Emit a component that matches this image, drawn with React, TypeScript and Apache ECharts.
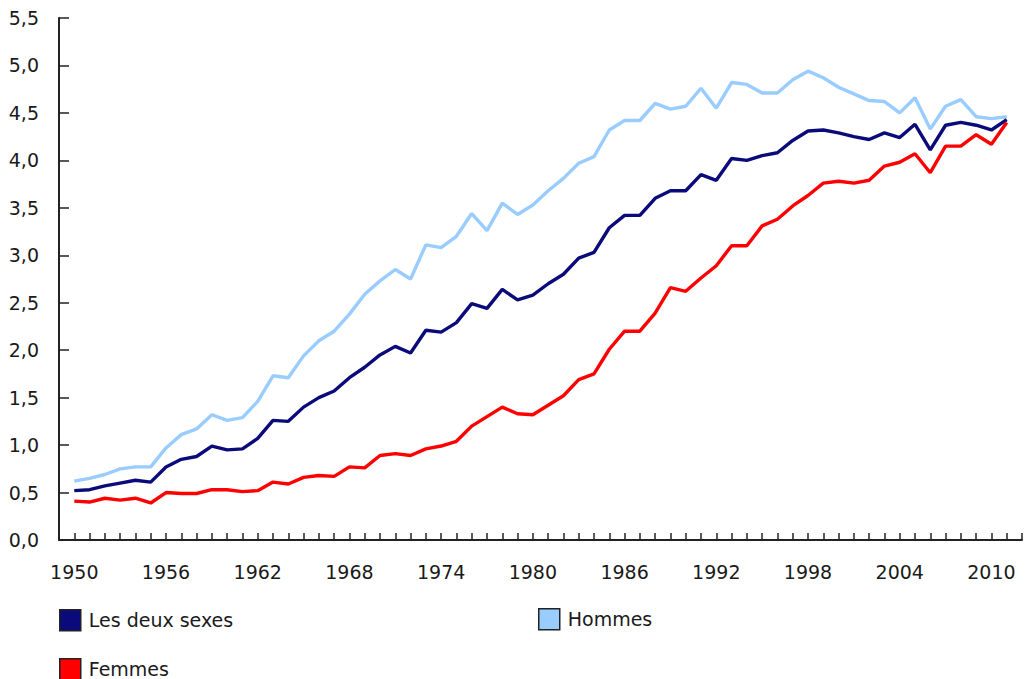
import React, { useEffect, useRef } from "react";
import * as echarts from "echarts";

const years: number[] = [];
for (let y = 1950; y <= 2011; y++) years.push(y);

const lesDeuxSexes = [
  0.52, 0.53, 0.57, 0.60, 0.63, 0.61, 0.77, 0.85, 0.88, 0.99,
  0.95, 0.96, 1.07, 1.26, 1.25, 1.40, 1.50, 1.57, 1.71, 1.82,
  1.95, 2.04, 1.97, 2.21, 2.19, 2.29, 2.49, 2.44, 2.64, 2.53,
  2.58, 2.70, 2.80, 2.97, 3.03, 3.29, 3.42, 3.42, 3.60, 3.68,
  3.68, 3.85, 3.79, 4.02, 4.00, 4.05, 4.08, 4.21, 4.31, 4.32,
  4.29, 4.25, 4.22, 4.29, 4.24, 4.38, 4.11, 4.37, 4.40, 4.37,
  4.32, 4.43,
];

const hommes = [
  0.62, 0.65, 0.69, 0.75, 0.77, 0.77, 0.97, 1.11, 1.17, 1.32,
  1.26, 1.29, 1.46, 1.73, 1.71, 1.94, 2.10, 2.20, 2.38, 2.59,
  2.73, 2.85, 2.75, 3.11, 3.08, 3.20, 3.44, 3.26, 3.55, 3.43,
  3.53, 3.68, 3.81, 3.97, 4.04, 4.32, 4.42, 4.42, 4.60, 4.54,
  4.57, 4.76, 4.55, 4.82, 4.80, 4.71, 4.71, 4.85, 4.94, 4.87,
  4.77, 4.70, 4.63, 4.62, 4.50, 4.66, 4.33, 4.57, 4.64, 4.46,
  4.44, 4.46,
];

const femmes = [
  0.41, 0.40, 0.44, 0.42, 0.44, 0.39, 0.50, 0.49, 0.49, 0.53,
  0.53, 0.51, 0.52, 0.61, 0.59, 0.66, 0.68, 0.67, 0.77, 0.76,
  0.89, 0.91, 0.89, 0.96, 0.99, 1.04, 1.20, 1.30, 1.40, 1.33,
  1.32, 1.42, 1.52, 1.69, 1.75, 2.01, 2.20, 2.20, 2.39, 2.66,
  2.62, 2.76, 2.89, 3.10, 3.10, 3.31, 3.38, 3.52, 3.63, 3.76,
  3.78, 3.76, 3.79, 3.94, 3.98, 4.07, 3.87, 4.15, 4.15, 4.27,
  4.17, 4.40,
];

const NAMES = ["Les deux sexes", "Hommes", "Femmes"];
const COLORS = ["#0a0a7a", "#99ccff", "#ff0000"];
const FONT = "Verdana, 'DejaVu Sans', sans-serif";
const TEXT = "#1a1a1a";

export default function App() {
  const ref = useRef<HTMLDivElement>(null);
  useEffect(() => {
    if (!ref.current) return;
    const chart = echarts.init(ref.current, undefined, { renderer: "svg" });
    const toPairs = (vals: number[]) => years.map((y, i) => [y, vals[i]]);
    const mkSeries = (idx: number, vals: number[]) => ({
      name: NAMES[idx],
      type: "line",
      data: toPairs(vals),
      showSymbol: false,
      symbol: "none",
      color: COLORS[idx],
      lineStyle: { color: COLORS[idx], width: 3.4 },
      itemStyle: { color: COLORS[idx] },
    });
    const legendBase = {
      orient: "horizontal",
      padding: 0,
      icon: "rect",
      itemWidth: 21,
      itemHeight: 21,
      selectedMode: false,
      itemStyle: { borderColor: "#222", borderWidth: 1.5 },
      textStyle: { fontFamily: FONT, fontSize: 19, color: TEXT, padding: [0, 0, 0, 3] },
    };
    chart.setOption({
      animation: false,
      grid: { left: 59, width: 971, top: 18, bottom: 139, containLabel: false },
      xAxis: {
        type: "value",
        min: 1949,
        max: 2012,
        interval: 1,
        axisLine: { show: true, lineStyle: { color: "#222", width: 2 } },
        axisTick: { show: true, inside: true, length: 7, lineStyle: { color: "#222", width: 1.5 } },
        splitLine: { show: false },
        axisLabel: {
          margin: 22,
          fontFamily: FONT,
          fontSize: 19,
          color: TEXT,
          showMinLabel: true,
          showMaxLabel: true,
          formatter: (v: number) => (v >= 1950 && (v - 1950) % 6 === 0 ? String(v) : ""),
        },
      },
      yAxis: {
        type: "value",
        min: 0,
        max: 5.5,
        interval: 0.5,
        axisLine: { show: true, lineStyle: { color: "#222", width: 2 } },
        axisTick: { show: true, inside: true, length: 10, lineStyle: { color: "#222", width: 1.5 } },
        splitLine: { show: false },
        axisLabel: {
          margin: 20,
          fontFamily: FONT,
          fontSize: 19,
          color: TEXT,
          formatter: (v: number) => v.toFixed(1).replace(".", ","),
        },
      },
      legend: [
        { ...legendBase, left: 59, top: 609, data: [NAMES[0]] },
        { ...legendBase, left: 538, top: 608, data: [NAMES[1]] },
        { ...legendBase, left: 59, top: 658, data: [NAMES[2]] },
      ],
      series: [mkSeries(1, hommes), mkSeries(0, lesDeuxSexes), mkSeries(2, femmes)],
    });
    return () => chart.dispose();
  }, []);
  return (
    <div
      ref={ref}
      style={{ position: "absolute", left: 0, top: 0, width: 1025, height: 679, background: "#fff" }}
    />
  );
}
